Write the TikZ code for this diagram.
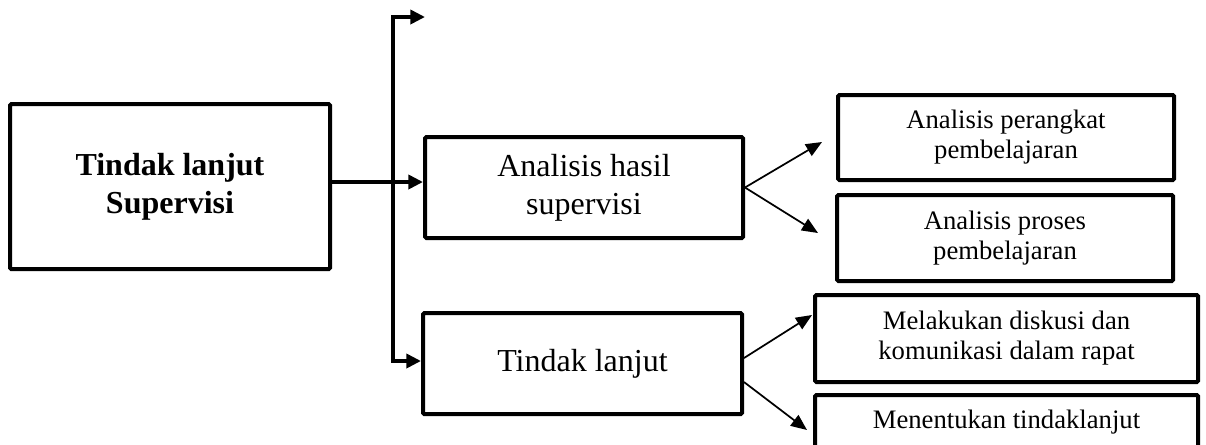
\documentclass[tikz,border=0pt]{standalone}
\usepackage{fontspec}
\setmainfont{Liberation Serif}
\usetikzlibrary{positioning,arrows.meta}

\tikzset{
  box/.style = {draw, line width=3pt, rounded corners=1pt, inner sep=0pt, align=center},
  bigtext/.style = {font=\fontsize{24}{28.5}\selectfont},
  smalltext/.style = {font=\fontsize{20}{22.5}\selectfont},
  tip/.tip = {Triangle[length=11pt,width=10.5pt]},
  trunk/.style = {line width=3pt, -tip},
  thin/.style = {line width=1.3pt, -{Triangle[length=12pt,width=10pt]}}
}

\begin{document}
\begin{tikzpicture}[x=0.75pt, y=-0.75pt]
  \useasboundingbox (0,0) rectangle (1206,444);
  \clip (0,0) rectangle (1206,444);

  % Level 0: main box
  \node[box, bigtext, minimum width=240pt, minimum height=123.75pt] (main) at (170,186.5)
    {\textbf{Tindak lanjut}\\\textbf{Supervisi}};

  % Level 1: middle boxes
  \node[box, bigtext, minimum width=238.5pt, minimum height=75.75pt] (hasil) at (584,187.5)
    {Analisis hasil\\supervisi};
  \node[box, bigtext, minimum width=239.25pt, minimum height=75.75pt] (tindak) at (582.5,363.5)
    {Tindak lanjut};

  % Level 2: right boxes
  \node[box, smalltext, minimum width=252pt, minimum height=63.75pt] (perangkat) at (1006,137.5)
    {Analisis perangkat\\pembelajaran};
  \node[box, smalltext, minimum width=252pt, minimum height=64.5pt] (proses) at (1005,238)
    {Analisis proses\\pembelajaran};
  \node[box, smalltext, minimum width=287.25pt, minimum height=65.25pt] (diskusi) at (1006.5,338.5)
    {Melakukan diskusi dan\\komunikasi dalam rapat};
  \node[box, smalltext, minimum width=287.25pt, minimum height=65.25pt] (tentukan) at (1006.5,438.5)
    {Menentukan tindaklanjut\\\strut};

  % Trunk
  \coordinate (top) at (393,17);
  \coordinate (topend) at (425,17);
  \coordinate (bot) at (393,361);
  \draw[trunk] (main.east |- 0,182) -- (hasil.west |- 0,182);
  \draw[trunk, tip-tip] (topend) -- (top) -- (bot) -- (tindak.west |- bot);

  % Edges from hasil
  \coordinate (hasilA) at (822,142);
  \coordinate (hasilB) at (818,233);
  \draw[thin] (hasil.east) -- (hasilA);
  \draw[thin] (hasil.east) -- (hasilB);

  % Edges from tindak
  \coordinate (tindakA) at (812,315);
  \coordinate (tindakB) at (807,430);
  \draw[thin] ([yshift=4.1pt]tindak.east) -- (tindakA);
  \draw[thin] ([yshift=-13.9pt]tindak.east) -- (tindakB);

\end{tikzpicture}
\end{document}
